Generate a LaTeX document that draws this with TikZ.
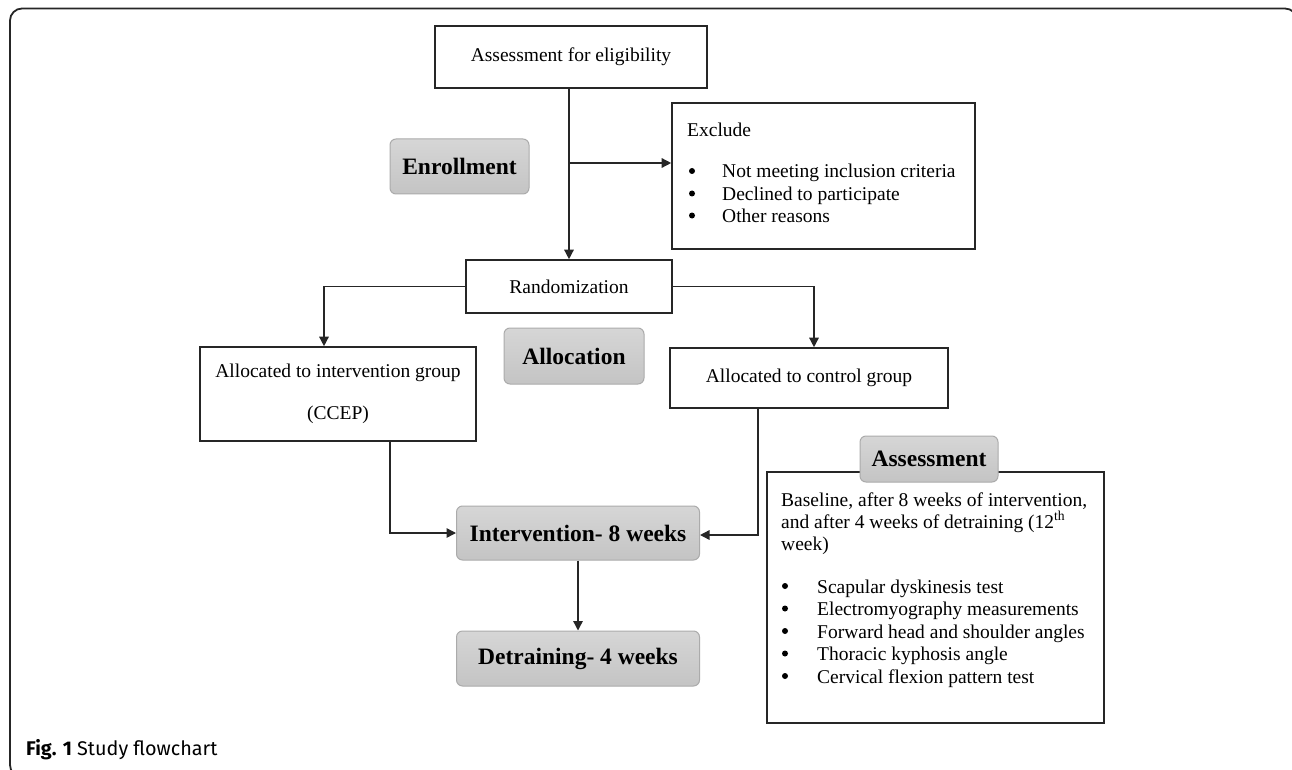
\documentclass[tikz,border=0pt]{standalone}
\usepackage{fontspec}
\setmainfont{Liberation Serif}
\newfontfamily\capfont{Fira Sans}
\usetikzlibrary{arrows.meta,calc}
\definecolor{boxline}{HTML}{262626}
\definecolor{tagfillT}{HTML}{D6D6D6}
\definecolor{tagfillB}{HTML}{C4C4C4}
\definecolor{tagline}{HTML}{ABABAB}
\tikzset{
  plainbox/.style={draw=boxline,line width=1.6pt,fill=white,inner sep=0pt,font=\fontsize{19.5}{22}\selectfont},
  tagbox/.style={draw=tagline,line width=1pt,rounded corners=6pt,top color=tagfillT,bottom color=tagfillB,inner sep=0pt,font=\bfseries\fontsize{23.5}{26}\selectfont},
  conn/.style={draw=boxline,line width=1.4pt},
  arr/.style={conn,-{Triangle[length=9.5pt,width=9.5pt]}},
  bodytext/.style={inner sep=0pt,font=\fontsize{19.5}{22}\selectfont,anchor=base west},
  bul/.style={circle,fill=black,inner sep=0pt,minimum size=6pt},
}
\begin{document}
\begin{tikzpicture}[x=1pt,y=-1pt]
\useasboundingbox (0,0) rectangle (1292,770);
\begin{scope}
\clip (0,0) rectangle (1292,770);
\draw[line width=1.8pt,draw=boxline,rounded corners=12pt] (10,8.5) rectangle (1297,777);
\end{scope}
% boxes
\node[plainbox,minimum width=272pt,minimum height=62pt] (elig) at (571,57) {Assessment for eligibility};
\node[plainbox,minimum width=303pt,minimum height=146pt] (excl) at (823.5,176) {};
\node[tagbox,minimum width=139pt,minimum height=55pt] (enroll) at (459.5,166.5) {Enrollment};
\node[plainbox,minimum width=206pt,minimum height=53pt] (rand) at (569,286.5) {Randomization};
\node[tagbox,minimum width=140pt,minimum height=56pt] (alloc) at (574,356) {Allocation};
\node[plainbox,minimum width=276pt,minimum height=94pt,align=center] (intgrp) at (338,394) {Allocated to intervention group\\[20pt](CCEP)};
\node[plainbox,minimum width=278pt,minimum height=60pt] (ctrl) at (809,378) {Allocated to control group};
\node[tagbox,minimum width=243pt,minimum height=54pt] (int8) at (578,533) {Intervention- 8 weeks};
\node[tagbox,minimum width=243pt,minimum height=55pt] (detr) at (578,658.5) {Detraining- 4 weeks};
\node[plainbox,minimum width=337pt,minimum height=251pt] (abox) at (935.5,597.5) {};
\node[tagbox,minimum width=138pt,minimum height=46pt] (atag) at (929,459) {Assessment};
% exclude text
\node[bodytext] (e0) at (687,137) {Exclude};
\node[bul] (eb1) at (692,171) {};
\node[bodytext] (e1) at (722,178) {Not meeting inclusion criteria};
\node[bul] (eb2) at (692,193.5) {};
\node[bodytext] (e2) at (722,200.5) {Declined to participate};
\node[bul] (eb3) at (692,215.5) {};
\node[bodytext] (e3) at (722,222.5) {Other reasons};
% assessment text
\node[bodytext] (a1) at (781,506) {Baseline, after 8 weeks of intervention,};
\node[bodytext] (a2) at (781,528) {and after 4 weeks of detraining (12\textsuperscript{th}};
\node[bodytext] (a3) at (781,550) {week)};
\node[bul] (ab1) at (785,586) {};
\node[bodytext] (a4) at (817,593) {Scapular dyskinesis test};
\node[bul] (ab2) at (785,608.5) {};
\node[bodytext] (a5) at (817,615.5) {Electromyography measurements};
\node[bul] (ab3) at (785,631) {};
\node[bodytext] (a6) at (817,638) {Forward head and shoulder angles};
\node[bul] (ab4) at (785,653.5) {};
\node[bodytext] (a7) at (817,660.5) {Thoracic kyphosis angle};
\node[bul] (ab5) at (785,676) {};
\node[bodytext] (a8) at (817,683) {Cervical flexion pattern test};
% caption
\node[inner sep=0pt,anchor=base west,font=\capfont\fontsize{19.8}{22}\selectfont] (cap) at (26,755) {\textbf{Fig. 1} Study flowchart};
% connectors
\coordinate (br) at (569,163);
\draw[arr] (elig.south -| rand.north) -- (rand.north);
\draw[arr] (br) -- (br -| excl.west);
\coordinate (lt) at (324,286.5);
\draw[arr] (rand.west) -- (lt) -- (lt |- intgrp.north);
\coordinate (rt) at (814,286.5);
\draw[arr] (rand.east) -- (rt) -- (rt |- ctrl.north);
\coordinate (ld) at (390,533);
\draw[arr] (ld |- intgrp.south) -- (ld) -- (int8.west);
\coordinate (rd) at (758,535);
\draw[arr] (rd |- ctrl.south) -- (rd) -- (rd -| int8.east);
\draw[arr] (int8.south) -- (detr.north);
\end{tikzpicture}
\end{document}
